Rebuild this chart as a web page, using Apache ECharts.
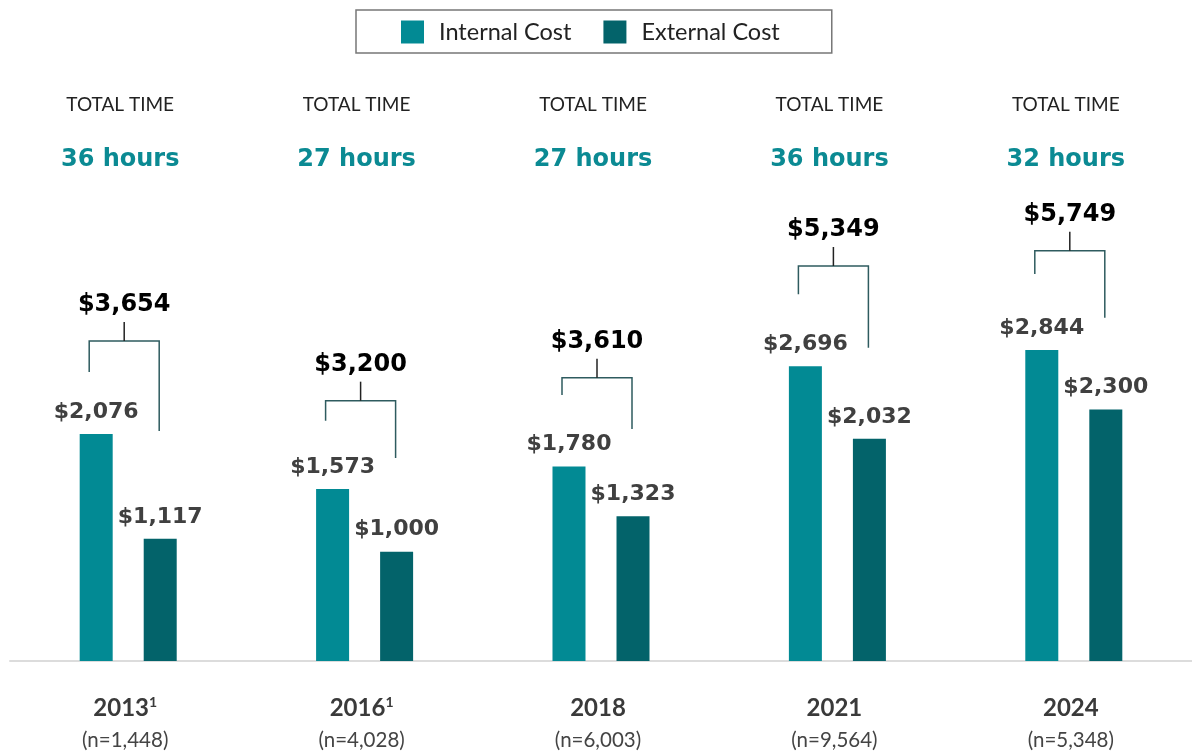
<!DOCTYPE html>
<html>
<head>
<meta charset="utf-8">
<script src="https://cdn.jsdelivr.net/npm/echarts@6/dist/echarts.min.js"></script>
<style>
  html, body { margin: 0; padding: 0; background: #fff; }
  #main { width: 1192px; height: 752px; }
</style>
</head>
<body>
<div id="main"></div>
<script>
// chart data
var years = ['2013', '2016', '2018', '2021', '2024'];
var footnotes = ['1', '1', '', '', ''];
var sampleSizes = ['(n=1,448)', '(n=4,028)', '(n=6,003)', '(n=9,564)', '(n=5,348)'];
var totalHours = [36, 27, 27, 36, 32];
var internalCost = [2076, 1573, 1780, 2696, 2844];
var externalCost = [1117, 1000, 1323, 2032, 2300];
var totalCost = [3654, 3200, 3610, 5349, 5749];
// bracket levels (same units as the cost axis)
var bracketLevel = [2927, 2381, 2591, 3613, 3753];
var bracketLeftEnd = [2643, 2198, 2433, 3354, 3540];
var bracketRightEnd = [2104, 1857, 2122, 2866, 3140];

window.onload = function() {
    var myChart = echarts.init(document.getElementById('main'));

    function money(v) {
        return '$' + Number(v).toLocaleString('en-US');
    }

    var bracketData = years.map(function(y, i) {
        return [i, bracketLevel[i], bracketLeftEnd[i], bracketRightEnd[i], totalCost[i]];
    });

    var barLabel = {
        show: true,
        position: 'top',
        distance: 11,
        formatter: function(p) { return money(p.value); },
        fontFamily: 'DejaVu Sans',
        fontWeight: 'bold',
        fontSize: 22,
        color: '#404040'
    };

    var option = {
        backgroundColor: '#fff',
        animation: false,
        legend: {
            top: 10,
            left: 356,
            data: ['Internal Cost', 'External Cost'],
            icon: 'rect',
            itemWidth: 23,
            itemHeight: 23,
            itemGap: 32,
            padding: [10, 52, 9, 45],
            borderColor: '#777',
            borderWidth: 1.5,
            textStyle: {
                fontFamily: 'Lato',
                fontSize: 23.5,
                color: '#222',
                padding: [0, 0, 0, 10]
            }
        },
        grid: {
            left: 10,
            right: -4,
            top: 5,
            bottom: 91
        },
        xAxis: [{
            type: 'category',
            data: years,
            axisLine: { lineStyle: { color: '#dcdcdc', width: 2 } },
            axisTick: { show: false },
            axisLabel: {
                margin: 30,
                padding: [0, 6, 0, 0],
                formatter: function(v, i) {
                    var s = '{y|' + v + '}';
                    if (footnotes[i]) s += '{s|' + footnotes[i] + '}';
                    return s + '\n{n|' + sampleSizes[i] + '}';
                },
                rich: {
                    y: { fontFamily: 'Lato', fontWeight: 'bold', fontSize: 24, color: '#3a3a3a', lineHeight: 34 },
                    s: { fontFamily: 'Lato', fontWeight: 'bold', fontSize: 14, color: '#3a3a3a', lineHeight: 34, padding: [0, 0, 12, 0] },
                    n: { fontFamily: 'Lato', fontSize: 20.5, color: '#444', lineHeight: 30 }
                }
            }
        }, {
            type: 'category',
            data: years,
            position: 'top',
            offset: -182,
            axisLine: { show: false },
            axisTick: { show: false },
            axisLabel: {
                margin: 0,
                padding: [0, 16, 0, 0],
                formatter: function(v, i) {
                    return '{t|TOTAL TIME}\n{h|' + totalHours[i] + ' hours}';
                },
                rich: {
                    t: { fontFamily: 'Lato', fontSize: 19, color: '#222', lineHeight: 55 },
                    h: { fontFamily: 'DejaVu Sans', fontWeight: 'bold', fontSize: 24, color: '#0b8a93', lineHeight: 55 }
                }
            }
        }],
        yAxis: {
            type: 'value',
            min: 0,
            max: 6000,
            show: false,
            splitLine: { show: false }
        },
        series: [{
            name: 'Internal Cost',
            type: 'bar',
            data: internalCost,
            barWidth: 33,
            barGap: '94%',
            itemStyle: { color: '#028a94' },
            label: barLabel
        }, {
            name: 'External Cost',
            type: 'bar',
            data: externalCost,
            barWidth: 33,
            itemStyle: { color: '#03636a' },
            label: barLabel
        }, {
            name: 'Total',
            type: 'custom',
            data: bracketData,
            encode: { x: 0, y: 1 },
            silent: true,
            z: 5,
            renderItem: function(params, api) {
                var i = api.value(0);
                var c = api.coord([i, api.value(1)]);
                var yLeft = api.coord([i, api.value(2)])[1];
                var yRight = api.coord([i, api.value(3)])[1];
                var xm = c[0] - 4;
                var half = 35;
                var y = c[1];
                var tick = 19;
                return {
                    type: 'group',
                    children: [{
                        type: 'polyline',
                        shape: { points: [[xm - half, yLeft], [xm - half, y], [xm + half, y], [xm + half, yRight]] },
                        style: { stroke: '#2e5b5f', lineWidth: 1.5, fill: null }
                    }, {
                        type: 'line',
                        shape: { x1: xm, y1: y, x2: xm, y2: y - tick },
                        style: { stroke: '#222', lineWidth: 1.5 }
                    }, {
                        type: 'text',
                        x: xm,
                        y: y - tick - 5,
                        style: {
                            text: money(api.value(4)),
                            font: 'bold 24px "DejaVu Sans"',
                            fill: '#000',
                            align: 'center',
                            verticalAlign: 'bottom'
                        }
                    }]
                };
            }
        }]
    };

    myChart.setOption(option);
};
</script>
</body>
</html>
